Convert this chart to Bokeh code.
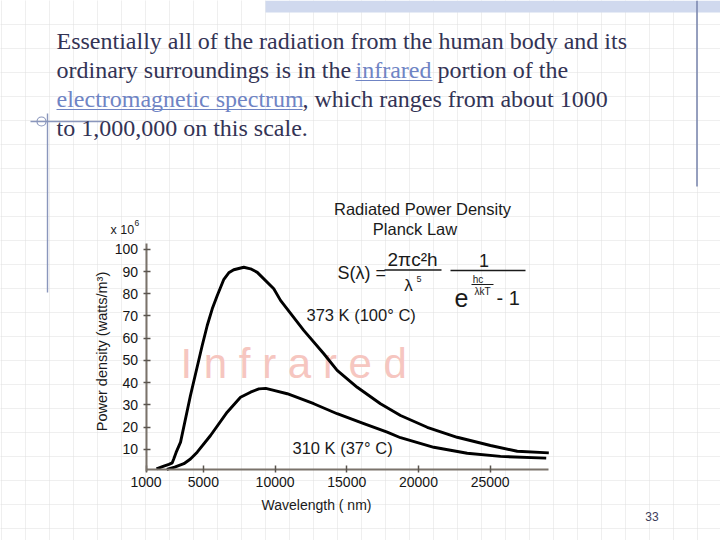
import math
from bokeh.plotting import figure
from bokeh.models import Range1d, LinearAxis, FixedTicker, Grid
from bokeh.core.properties import value
from bokeh.embed import file_html
from bokeh.resources import INLINE

# ---------------- data ----------------
WL_373 = [1730, 2240, 2600, 2830, 2940, 3100, 3410, 4100, 4920, 5270, 5620, 5970, 6310, 6430, 6770,
          7120, 7820, 8290, 8760, 9910, 10380, 12000, 13400, 14330, 15730, 17350, 18750,
          20610, 22700, 25020, 26890, 29090]
PD_373 = [1.2, 2.4, 3.2, 3.9, 5.7, 8.6, 13.2, 34.2, 56.7, 65.7, 73.2, 79.2, 84.6, 86.5, 89.4,
          90.8, 91.9, 91.2, 89.6, 82.2, 77.0, 63.5, 53.0, 45.5, 37.9, 30.5, 25.2,
          19.9, 15.4, 11.7, 9.1, 8.4]

WL_310 = [2450, 3000, 3640, 4100, 4570, 5500, 6660, 7590, 8290, 8870, 9350, 9910, 10850,
          12700, 14330, 16190, 17820, 18750, 21070, 23400, 25720, 28910]
PD_310 = [1.0, 2.0, 3.5, 5.6, 8.7, 16.2, 26.7, 33.4, 35.7, 37.2, 37.4, 36.5, 35.0,
          30.5, 26.0, 21.5, 17.7, 15.2, 10.9, 8.2, 6.8, 6.0]

X_TICKS = [1000, 5000, 10000, 15000, 20000, 25000]
X_TICK_LABELS = ["1000", "5000", "10000", "15000", "20000", "25000"]
Y_TICKS = [10, 20, 30, 40, 50, 60, 70, 80, 90, 100]
Y_TICK_LABELS = ["10", "20", "30", "40", "50", "60", "70", "80", "90", "100"]

LABEL_373 = "373 K (100° C)"
LABEL_310 = "310 K (37° C)"
X_TITLE = "Wavelength ( nm)"
Y_TITLE = "Power density (watts/m³)"
CHART_TITLE = ["Radiated Power Density", "Planck Law"]
WATERMARK = "I n f r a r e d"

# ---------------- layout geometry ----------------
W, H = 720, 540
PAGE = 0                     # Bokeh's page template has no body margin
AX_X = 145.5                 # screen x of wavelength 1000
PX_PER_NM = 71.7 / 5000
Y0_PX = 471.0                # screen y of power density 0
PX_PER_UNIT = 22.222 / 10

x_start = 1000 - (AX_X - PAGE) / PX_PER_NM
x_end = 1000 + (PAGE + W - AX_X) / PX_PER_NM
y_start = -(PAGE + H - Y0_PX) / PX_PER_UNIT
y_end = (Y0_PX - PAGE) / PX_PER_UNIT

p = figure(width=W, height=H, x_range=Range1d(x_start, x_end), y_range=Range1d(y_start, y_end),
           x_axis_type=None, y_axis_type=None, output_backend="svg", toolbar_location=None,
           min_border=0, title=None, outline_line_color=None,
           background_fill_color="white", border_fill_color="white")
p.extra_x_ranges = {"px": Range1d(PAGE, PAGE + W)}
p.extra_y_ranges = {"py": Range1d(PAGE + H, PAGE)}

# slide background dotted grid
vx = [1 + 24 * k for k in range(0, 31) if PAGE <= 1 + 24 * k <= PAGE + W]
hy = [24 * k for k in range(0, 24) if PAGE <= 24 * k <= PAGE + H]
p.add_layout(Grid(dimension=0, ticker=FixedTicker(ticks=vx), x_range_name="px", y_range_name="py",
                  grid_line_color="#dedede", grid_line_dash="1 1", grid_line_width=1))
p.add_layout(Grid(dimension=1, ticker=FixedTicker(ticks=hy), x_range_name="px", y_range_name="py",
                  grid_line_color="#dedede", grid_line_dash="1 1", grid_line_width=1))

# slide decorations
p.quad(left=265, right=720, top=0, bottom=12, x_range_name="px", y_range_name="py",
       fill_color="#d0d9ee", line_color=None)
p.segment(x0=696.5, y0=0, x1=696.5, y1=186, x_range_name="px", y_range_name="py",
          line_color="#7d89b0", line_width=1.6)
p.segment(x0=47, y0=113, x1=47, y1=292, x_range_name="px", y_range_name="py",
          line_color="#8a96bc", line_width=1.4)
p.segment(x0=30, y0=121, x1=104, y1=121, x_range_name="px", y_range_name="py",
          line_color="#8a96bc", line_width=1.4)
p.scatter(x=[41], y=[121], size=9, marker="circle", fill_color=None, line_color="#8a96bc",
          line_width=1.2, x_range_name="px", y_range_name="py")


def txt(x, y, s, size, color="#1a1a1a", font="Liberation Sans", align="left",
        baseline="middle", angle=0.0):
    p.text(x=[x], y=[y], text=[s], x_range_name="px", y_range_name="py",
           text_font=value(font), text_font_size=value(size), text_color=color,
           text_align=align, text_baseline=baseline, angle=angle)


# watermark behind curves
txt(180, 363, WATERMARK, "42px", color="#f6c6c0")

# axes
xaxis = LinearAxis(fixed_location=0.7, bounds=(1000, 29100), ticker=FixedTicker(ticks=X_TICKS),
                   major_label_overrides=dict(zip(X_TICKS, X_TICK_LABELS)))
yaxis = LinearAxis(fixed_location=1000, bounds=(0, 102.6), ticker=FixedTicker(ticks=Y_TICKS),
                   major_label_overrides=dict(zip(Y_TICKS, Y_TICK_LABELS)))
for ax in (xaxis, yaxis):
    ax.axis_line_color = "#7a736b"
    ax.axis_line_width = 2
    ax.major_tick_line_color = "#5a544e"
    ax.major_tick_line_width = 1.5
    ax.major_tick_in = 4
    ax.major_tick_out = 3
    ax.minor_tick_line_color = None
    ax.major_label_text_font = "Liberation Sans"
    ax.major_label_text_font_size = "14px"
    ax.major_label_text_color = "#151515"
xaxis.major_label_standoff = 4
yaxis.major_label_standoff = 5
p.add_layout(xaxis, "below")
p.add_layout(yaxis, "left")

# curves
p.line(WL_373, PD_373, line_color="black", line_width=2.9, line_join="round")
p.line(WL_310, PD_310, line_color="black", line_width=2.9, line_join="round")

# chart texts
txt(422, 208, CHART_TITLE[0], "16.5px", align="center")
txt(414.5, 228, CHART_TITLE[1], "16.5px", align="center")
txt(306, 314, LABEL_373, "16.5px")
txt(292, 447, LABEL_310, "16.5px")
txt(110, 229, "x 10", "12.5px")
txt(134, 222, "6", "8.5px")
txt(316, 504, X_TITLE, "14px", align="center")
txt(101, 351, Y_TITLE, "14.5px", align="center", angle=math.pi / 2)

# formula
txt(337, 272, "S(λ) =", "18px")
txt(412, 258.5, "2πc²h", "19px", align="center")
p.segment(x0=384, y0=269.5, x1=441, y1=269.5, x_range_name="px", y_range_name="py",
          line_color="#1a1a1a", line_width=1.3)
txt(408, 285, "λ", "17px", align="center")
txt(416, 278, "5", "9px")
txt(483.5, 259.5, "1", "18px", align="center")
p.segment(x0=450, y0=270, x1=525, y1=270, x_range_name="px", y_range_name="py",
          line_color="#1a1a1a", line_width=1.3)
txt(454, 297, "e", "25px")
txt(477.5, 278.5, "hc", "10px", align="center")
p.segment(x0=471, y0=284, x1=493, y1=284, x_range_name="px", y_range_name="py",
          line_color="#1a1a1a", line_width=1)
txt(482, 291, "λkT", "10px", align="center")
txt(496, 297, "- 1", "20px")

# slide paragraph
TXT = "#333355"
LINK = "#6f84c4"
SERIF = "Liberation Serif"
txt(56, 40, "Essentially all of the radiation from the human body and its", "24px", color=TXT, font=SERIF)
txt(56, 69, "ordinary surroundings is in the", "24px", color=TXT, font=SERIF)
txt(355, 69, "infrared", "24px", color=LINK, font=SERIF)
txt(437, 69, "portion of the", "24px", color=TXT, font=SERIF)
txt(56, 98, "electromagnetic spectrum", "24px", color=LINK, font=SERIF)
txt(302, 98, ", which ranges from about 1000", "24px", color=TXT, font=SERIF)
txt(56, 127, "to 1,000,000 on this scale.", "24px", color=TXT, font=SERIF)
p.segment(x0=355, y0=80, x1=432, y1=80, x_range_name="px", y_range_name="py",
          line_color=LINK, line_width=1.2)
p.segment(x0=56, y0=109, x1=302, y1=109, x_range_name="px", y_range_name="py",
          line_color=LINK, line_width=1.2)

# page number
txt(651.5, 516, "33", "12px", color="#3c3c5a", align="center")

open("out.html", "w").write(file_html(p, INLINE))
